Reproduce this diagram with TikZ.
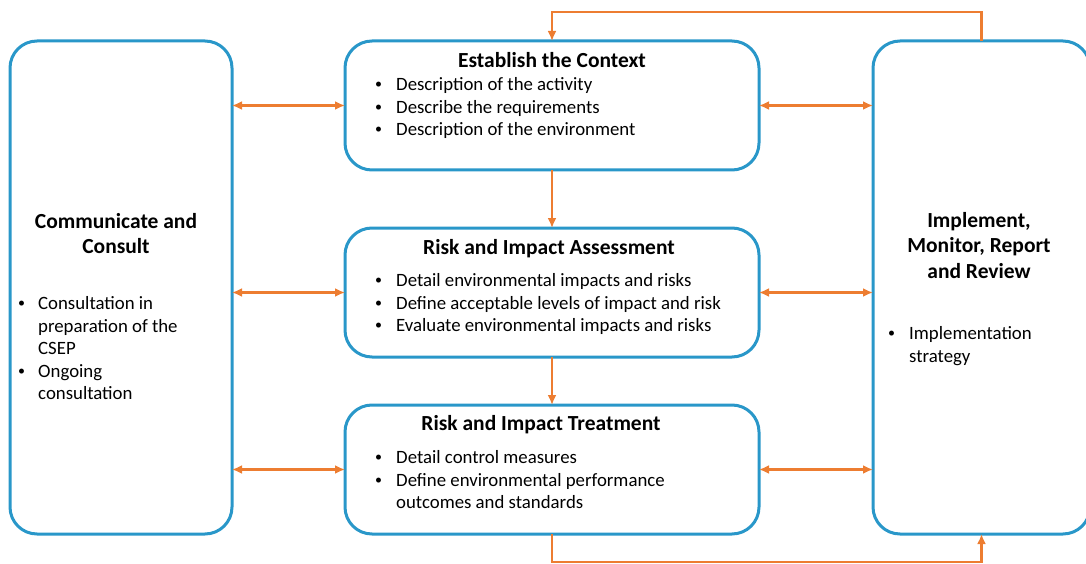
\documentclass[tikz,border=0pt]{standalone}
\usepackage{fontspec}
\setmainfont{Carlito}
\usetikzlibrary{arrows.meta}
\definecolor{boxblue}{RGB}{41,151,201}
\definecolor{linkorange}{RGB}{237,125,49}
\newcommand{\listdot}{\raisebox{0.12em}{\fontsize{14}{14}\selectfont\textbullet}}

\begin{document}
\begin{tikzpicture}[x=1pt,y=-1pt,
  panel/.style={draw=boxblue, line width=3pt, rounded corners=27pt, inner sep=0pt, outer sep=0pt},
  link/.style={draw=linkorange, line width=2.1pt, -{Latex[length=10pt,width=9pt]}},
  both/.style={link, {Latex[length=10pt,width=9pt]}-{Latex[length=10pt,width=9pt]}},
  heading/.style={font=\fontsize{21.5}{25.5}\selectfont\bfseries, inner sep=0pt, anchor=north},
  body/.style={font=\fontsize{18.8}{22.5}\selectfont, inner sep=0pt, anchor=north west},
]
\useasboundingbox (0,0) rectangle (1086,564);

% the five panels
\node[panel, minimum width=222pt, minimum height=493pt] (cc)  at (121,287.5) {};
\node[panel, minimum width=414pt, minimum height=129pt] (ctx) at (552,105.5) {};
\node[panel, minimum width=414pt, minimum height=129pt] (ria) at (552,292.5) {};
\node[panel, minimum width=414pt, minimum height=129pt] (rit) at (552,469.5) {};
\node[panel, minimum width=217pt, minimum height=493pt] (imp) at (981.5,287.5) {};

% panel headings (top of each tabular = first baseline - 0.7 baselineskip)
\node[heading] (cctitle) at (116,210) {\begin{tabular}{@{}c@{}}Communicate and\\ Consult\end{tabular}};
\node[heading] (imptitle) at (979,209) {\begin{tabular}{@{}c@{}}Implement,\\ Monitor, Report\\ and Review\end{tabular}};
\node[heading] (ctxtitle) at (552,49) {\begin{tabular}{@{}c@{}}Establish the Context\end{tabular}};
\node[heading] (riatitle) at (549,236) {\begin{tabular}{@{}c@{}}Risk and Impact Assessment\end{tabular}};
\node[heading] (rittitle) at (541,412) {\begin{tabular}{@{}c@{}}Risk and Impact Treatment\end{tabular}};

% bullet lists
\node[body] (cclist) at (18,294) {\begin{tabular}{@{}p{20pt}@{}l@{}}
  \listdot & Consultation in\\ & preparation of the\\ & CSEP\\
  \listdot & Ongoing\\ & consultation\end{tabular}};
\node[body] (implist) at (888,324) {\begin{tabular}{@{}p{21pt}@{}l@{}}
  \listdot & Implementation\\ & strategy\end{tabular}};
\node[body] (ctxlist) at (375,75) {\begin{tabular}{@{}p{21pt}@{}l@{}}
  \listdot & Description of the activity\\
  \listdot & Describe the requirements\\
  \listdot & Description of the environment\end{tabular}};
\node[body] (rialist) at (375,271) {\begin{tabular}{@{}p{21pt}@{}l@{}}
  \listdot & Detail environmental impacts and risks\\
  \listdot & Define acceptable levels of impact and risk\\
  \listdot & Evaluate environmental impacts and risks\end{tabular}};
\node[body] (ritlist) at (375,448) {\begin{tabular}{@{}p{21pt}@{}l@{}}
  \listdot & Detail control measures\\
  \listdot & Define environmental performance\\
           & outcomes and standards\end{tabular}};

% two-way links to the side panels
\draw[both] (cc.east |- ctx.west) -- (ctx.west);
\draw[both] (cc.east |- ria.west) -- (ria.west);
\draw[both] (cc.east |- rit.west) -- (rit.west);
\draw[both] (ctx.east) -- (ctx.east -| imp.west);
\draw[both] (ria.east) -- (ria.east -| imp.west);
\draw[both] (rit.east) -- (rit.east -| imp.west);

% main sequence
\draw[link] (ctx.south) -- (ria.north);
\draw[link] (ria.south) -- (rit.north);

% feedback loops
\coordinate (topturn) at (0,12);
\coordinate (botturn) at (0,562);
\draw[link] (imp.north) -- (imp.north |- topturn) -- (ctx.north |- topturn) -- (ctx.north);
\draw[link] (rit.south) -- (rit.south |- botturn) -- (imp.south |- botturn) -- (imp.south);
\end{tikzpicture}
\end{document}
